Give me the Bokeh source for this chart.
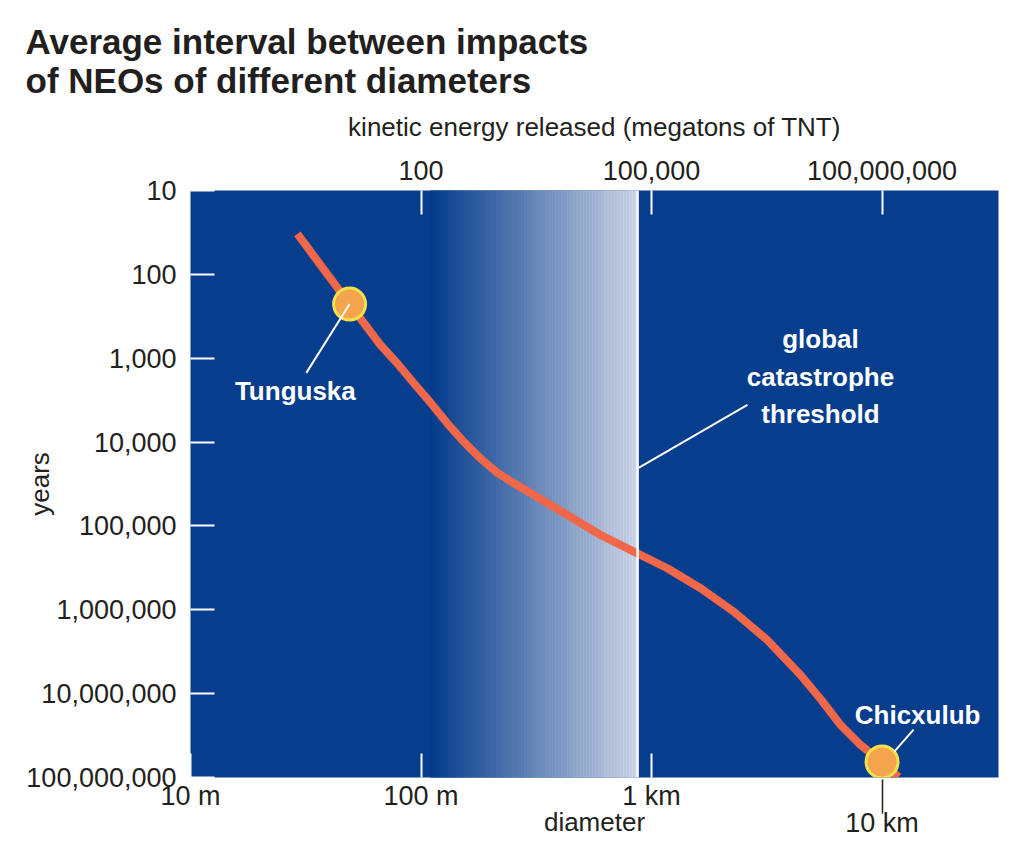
import numpy as np
from bokeh.plotting import figure
from bokeh.models import (Range1d, LogScale, LogAxis, FixedTicker, Span,
                          ColumnDataSource)
from bokeh.core.properties import value
from bokeh.embed import file_html
from bokeh.resources import INLINE

# ---------------- data ----------------
# average interval between impacts vs. impactor diameter
diameter_m = [29.1, 49, 66.7, 78.8, 93.1, 110, 130, 153, 181, 214, 253, 309,
              431, 601, 838, 1170, 1632, 2276, 3177, 4431, 5410, 6607, 8066,
              9950, 11790]
interval_years = [33, 226, 696, 1150, 1991, 3392, 5972, 9897, 15610, 23190,
                  31010, 42780, 74060, 128200, 202900, 320000, 554000, 1054000,
                  2292000, 5990000, 11580000, 23640000, 40930000, 65300000,
                  98600000]

# named impact events
event_names = ["Tunguska", "Chicxulub"]
event_diameter_m = [49, 10000]
event_interval_years = [226, 65300000]

# global catastrophe threshold and the hazy transition leading up to it
threshold_diameter_m = 870
haze_start_diameter_m = 110

# axis ticks
year_ticks = [10, 100, 1000, 10000, 100000, 1000000, 10000000, 100000000]
year_tick_labels = ["10", "100", "1,000", "10,000", "100,000", "1,000,000",
                    "10,000,000", "100,000,000"]
diameter_ticks = [10, 100, 1000, 10000]
diameter_tick_labels = ["10 m", "100 m", "1 km", "10 km"]
energy_ticks = [100, 100000, 100000000]
energy_tick_labels = ["100", "100,000", "100,000,000"]


# kinetic energy (megatons TNT) scales with diameter cubed: 100 m -> 100 Mt
def energy_mt(d):
    return 100.0 * (d / 100.0) ** 3


# ---------------- style ----------------
BLUE_RGB = (6, 61, 140)
HAZE_RGB = (212, 218, 234)
BLUE = "#%02x%02x%02x" % BLUE_RGB
CURVE = "#f0674a"
INK = "#231f20"
FONT = "Liberation Sans"
TICK_SIZE = "27px"

D_MIN, D_MAX = 10, 32000
Y_MIN, Y_MAX = 10, 100000000

p = figure(width=1023, height=856, x_axis_type="log", y_axis_type="log",
           x_range=Range1d(D_MIN, D_MAX), y_range=Range1d(Y_MAX, Y_MIN),
           output_backend="svg", toolbar_location=None,
           min_border_left=190, min_border_right=25,
           min_border_top=190, min_border_bottom=79,
           background_fill_color=BLUE, border_fill_color="white",
           outline_line_color=None)
p.grid.visible = False

bottom_axis = p.below[0]
left_axis = p.left[0]

# top axis: kinetic energy
p.extra_x_ranges = {"energy": Range1d(energy_mt(D_MIN), energy_mt(D_MAX))}
p.extra_x_scales = {"energy": LogScale()}
top_axis = LogAxis(x_range_name="energy",
                   ticker=FixedTicker(ticks=energy_ticks),
                   major_label_overrides=dict(zip(energy_ticks, energy_tick_labels)),
                   axis_label="kinetic energy released (megatons of TNT)")
p.add_layout(top_axis, "above")

# bottom axis: diameter (first row of labels)
bottom_axis.ticker = FixedTicker(ticks=diameter_ticks[:3])
bottom_axis.major_label_overrides = dict(zip(diameter_ticks[:3],
                                             diameter_tick_labels[:3]))

# second row: the 10 km tick reaches down past the first row, next to the title
bottom_axis2 = LogAxis(ticker=FixedTicker(ticks=diameter_ticks[3:]),
                       major_label_overrides=dict(zip(diameter_ticks[3:],
                                                      diameter_tick_labels[3:])),
                       axis_label="diameter")
p.add_layout(bottom_axis2, "below")

left_axis.ticker = FixedTicker(ticks=year_ticks)
left_axis.major_label_overrides = dict(zip(year_ticks, year_tick_labels))
left_axis.axis_label = "years"

for ax in (top_axis, bottom_axis, bottom_axis2, left_axis):
    ax.axis_line_color = None
    ax.major_tick_in = 24
    ax.major_tick_out = 0
    ax.major_tick_line_color = "white"
    ax.major_tick_line_width = 2
    ax.minor_tick_line_color = None
    ax.major_label_text_font = FONT
    ax.major_label_text_font_size = TICK_SIZE
    ax.major_label_text_color = INK
    ax.axis_label_text_font = FONT
    ax.axis_label_text_font_size = "26px"
    ax.axis_label_text_font_style = "normal"
    ax.axis_label_text_color = INK

left_axis.major_label_standoff = 14
left_axis.axis_label_standoff = -32
top_axis.major_label_standoff = 11
top_axis.axis_label_standoff = 16
bottom_axis.major_label_standoff = 3

bottom_axis2.major_tick_in = 34
bottom_axis2.major_tick_line_color = INK
bottom_axis2.major_tick_line_width = 1.5
bottom_axis2.major_label_standoff = -6
bottom_axis2.axis_label_standoff = -34

# title
p.title.text = "Average interval between impacts\nof NEOs of different diameters"
p.title.align = "left"
p.title.offset = -165
p.title.text_font = FONT
p.title.text_font_size = "35px"
p.title.text_font_style = "bold"
p.title.text_color = INK
p.title.standoff = 17

# hazy band fading towards the threshold
n = 140
edges = np.geomspace(haze_start_diameter_m, threshold_diameter_m, n + 1)
t = ((np.arange(n) + 0.5) / n) ** 1.05
haze_colors = ["#%02x%02x%02x" % tuple(int(round(a + (b - a) * f))
                                       for a, b in zip(BLUE_RGB, HAZE_RGB)) for f in t]
p.quad(left=edges[:-1], right=edges[1:], top=Y_MIN, bottom=Y_MAX,
       fill_color=haze_colors, line_color=haze_colors, line_width=0.6)

p.add_layout(Span(location=threshold_diameter_m, dimension="height",
                  line_color="white", line_width=2.5))

# impact-interval curve
p.line(diameter_m, interval_years, line_width=8, line_color=CURVE,
       line_join="round")

# event markers and leader lines
leaders = ColumnDataSource(dict(
    x0=[event_diameter_m[0], 11300, threshold_diameter_m * 1.01],
    y0=[event_interval_years[0], 49200000, 20270],
    x1=[31.8, 13700, 2606],
    y1=[1496, 26900000, 3606],
))
p.scatter(event_diameter_m, event_interval_years, size=32,
          fill_color="#f5a44e", line_color="#f2e14c", line_width=3)
p.segment(x0="x0", y0="y0", x1="x1", y1="y1", source=leaders,
          line_color="white", line_width=2)

labels = ColumnDataSource(dict(
    x=[28.5, 14260, 5405],
    y=[2455, 17800000, 1670],
    text=[event_names[0], event_names[1], "global\ncatastrophe\nthreshold"],
))
p.text(x="x", y="y", text="text", source=labels, text_align="center",
       text_baseline="middle", text_color="white", text_font=value(FONT),
       text_font_size="26px", text_font_style="bold", text_line_height=1.25)

open("out.html", "w").write(file_html(p, INLINE))
